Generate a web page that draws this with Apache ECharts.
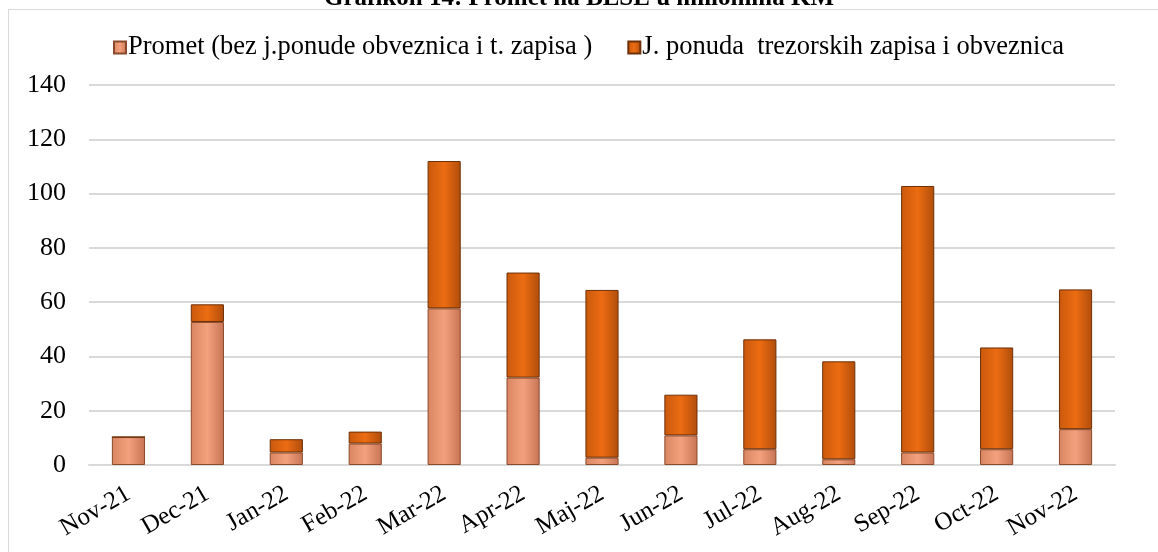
<!DOCTYPE html>
<html>
<head>
<meta charset="utf-8">
<script src="https://cdn.jsdelivr.net/npm/echarts@6/dist/echarts.min.js"></script>
<style>
  html, body { margin: 0; padding: 0; background: #fff; }
  #chart { width: 1158px; height: 552px; }
</style>
</head>
<body>
<div id="chart"></div>
<script>
const months = ["Nov-21", "Dec-21", "Jan-22", "Feb-22", "Mar-22", "Apr-22", "Maj-22",
  "Jun-22", "Jul-22", "Aug-22", "Sep-22", "Oct-22", "Nov-22"];
// promet bez javne ponude
const promet = [10.3, 52.7, 4.6, 7.9, 57.7, 32.2, 2.7, 10.9, 5.8, 2.1, 4.6, 5.8, 13.2];
// javna ponuda trezorskih zapisa i obveznica
const ponuda = [0, 6.5, 4.9, 4.4, 54.3, 38.7, 61.8, 15.0, 40.5, 36.1, 98.2, 37.5, 51.5];
const yTicks = [0, 20, 40, 60, 80, 100, 120, 140];

const serif = "'Liberation Serif', 'Times New Roman', serif";

function grad(c1, c2, c3) {
  return new echarts.graphic.LinearGradient(0, 0, 1, 0, [
    { offset: 0, color: c1 },
    { offset: 0.5, color: c2 },
    { offset: 1, color: c3 }
  ]);
}

const chart = echarts.init(document.getElementById("chart"));
const option = {
  animation: false,
  title: {
    text: "Grafikon 14: Promet na BESE u milionima KM",
    left: "center",
    top: -19,
    textStyle: { fontFamily: serif, fontWeight: "bold", fontSize: 25, color: "#000" }
  },
  legend: {
    top: 29,
    left: 108,
    itemWidth: 12,
    itemHeight: 12,
    itemGap: 35,
    icon: "rect",
    textStyle: { fontFamily: serif, fontSize: 26.5, color: "#000", padding: [0, 0, 0, -3] },
    data: ["Promet (bez j.ponude obveznica i t. zapisa )", "J. ponuda  trezorskih zapisa i obveznica"]
  },
  graphic: [
    { type: "line", shape: { x1: 8, y1: 9.5, x2: 1158, y2: 9.5 }, style: { stroke: "#d9d9d9", lineWidth: 1 } },
    { type: "line", shape: { x1: 8.5, y1: 9, x2: 8.5, y2: 552 }, style: { stroke: "#d9d9d9", lineWidth: 1 } }
  ],
  grid: { left: 89, right: 43, top: 85, bottom: 87 },
  xAxis: {
    type: "category",
    data: months,
    axisLine: { show: true, lineStyle: { color: "#d9d9d9", width: 2 } },
    axisTick: { show: false },
    axisLabel: { rotate: 30, margin: 27, fontFamily: serif, fontSize: 25, color: "#000" }
  },
  yAxis: {
    type: "value",
    min: yTicks[0],
    max: yTicks[yTicks.length - 1],
    interval: 20,
    axisLine: { show: false },
    axisTick: { show: false },
    splitLine: { lineStyle: { color: "#d9d9d9", width: 2 } },
    axisLabel: { margin: 23, fontFamily: serif, fontSize: 26, color: "#000" }
  },
  series: [
    {
      name: "Promet (bez j.ponude obveznica i t. zapisa )",
      type: "bar",
      stack: "total",
      barWidth: "42%",
      data: promet,
      itemStyle: {
        color: grad("#d98562", "#f3a17d", "#c77455"),
        borderColor: "#8a4a2c",
        borderWidth: 1
      }
    },
    {
      name: "J. ponuda  trezorskih zapisa i obveznica",
      type: "bar",
      stack: "total",
      barWidth: "42%",
      data: ponuda,
      itemStyle: {
        color: grad("#c9590d", "#ec6c12", "#b04d0b"),
        borderColor: "#6e3008",
        borderWidth: 1
      }
    }
  ]
};
chart.setOption(option);
</script>
</body>
</html>
